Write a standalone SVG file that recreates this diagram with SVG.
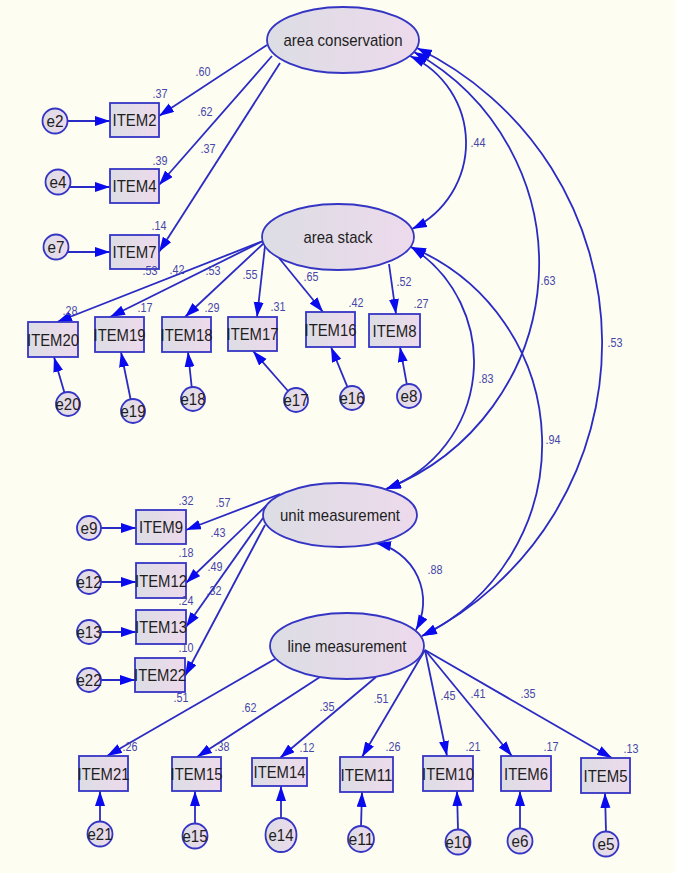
<svg xmlns="http://www.w3.org/2000/svg" width="675" height="873" viewBox="0 0 675 873">
<defs>
<linearGradient id="g" x1="0" y1="0" x2="1" y2="0">
<stop offset="0" stop-color="#dcdde4"/>
<stop offset="1" stop-color="#eddaec"/>
</linearGradient>
<marker id="ah" markerUnits="userSpaceOnUse" markerWidth="16" markerHeight="12" refX="15" refY="5" orient="auto-start-reverse">
<path d="M0,0 L15,5 L0,10 z" fill="#0a0aee"/>
</marker>
<style>
.n{fill:url(#g);stroke:#3535c4;stroke-width:1.8}
.t{font-family:"Liberation Sans",Arial,sans-serif;font-size:17px;fill:#1e1e1e;text-anchor:middle}
.l{font-family:"Liberation Sans",Arial,sans-serif;font-size:12.5px;fill:#4646aa;text-anchor:middle}
.c path{fill:none;stroke:#2a2ac4;stroke-width:1.8;marker-end:url(#ah)}
.c path.cov{marker-start:url(#ah)}
</style>
</defs>
<rect width="675" height="873" fill="#fdfdf1"/>

<g class="c" id="connectors">
<path class="cov" d="M410,56 A95.5,95.5 0 0 1 412,229"/>
<path class="cov" d="M414,52 A242,242 0 0 1 386,489"/>
<path class="cov" d="M417,48 A328,328 0 0 1 422,636"/>
<path class="cov" d="M411,247 A136,136 0 0 1 386,489"/>
<path class="cov" d="M411,247 A213.5,213.5 0 0 1 422,636"/>
<path class="cov" d="M376,543 A60,60 0 0 1 416,630"/>
<path d="M267,45 L159,116"/>
<path d="M272,56 L159,185"/>
<path d="M280,63 L159,252"/>
<path d="M263,241 L57,322"/>
<path d="M263,241 L110,317"/>
<path d="M264,243 L185,317"/>
<path d="M265,246 L257,317"/>
<path d="M279,258 L323,312"/>
<path d="M389,264 L396,314"/>
<path d="M280,494 L186,530"/>
<path d="M266,506 L186,583"/>
<path d="M263,518 L186,627"/>
<path d="M265,525 L185,676"/>
<path d="M275,659 L107,756"/>
<path d="M320,677 L197,757"/>
<path d="M376,677 L280,758"/>
<path d="M425,650 L362,757"/>
<path d="M425,650 L447,756"/>
<path d="M425,650 L512,756"/>
<path d="M425,650 L612,758"/>
<path d="M68,121 L110,121"/>
<path d="M70,187 L110,187"/>
<path d="M67,252 L110,252"/>
<path d="M64.4,392.6 L54,357"/>
<path d="M130.6,399.2 L121,352"/>
<path d="M191.7,387 L188,352"/>
<path d="M288,391 L253,351"/>
<path d="M347.4,386.9 L331,347"/>
<path d="M406.8,384.2 L400,347"/>
<path d="M101,528 L136,528"/>
<path d="M101,582 L136,582"/>
<path d="M101,632 L136,632"/>
<path d="M101,680 L135,680"/>
<path d="M100,821.5 L100,791"/>
<path d="M195,823.5 L195,791"/>
<path d="M281,818 L281,786"/>
<path d="M361,826 L362,792"/>
<path d="M458,829.5 L457,791"/>
<path d="M520,828.5 L520,791"/>
<path d="M606,831.5 L605,793"/>
</g>

<g id="area_conservation"><ellipse class="n" cx="343" cy="40" rx="76" ry="33"/><text class="t" x="343" y="46" textLength="119" lengthAdjust="spacingAndGlyphs">area conservation</text></g>
<g id="area_stack"><ellipse class="n" cx="338" cy="237" rx="76" ry="33"/><text class="t" x="338" y="243" textLength="69" lengthAdjust="spacingAndGlyphs">area stack</text></g>
<g id="unit_measurement"><ellipse class="n" cx="340" cy="515" rx="77" ry="32"/><text class="t" x="340" y="521" textLength="120" lengthAdjust="spacingAndGlyphs">unit measurement</text></g>
<g id="line_measurement"><ellipse class="n" cx="347" cy="646" rx="77" ry="33"/><text class="t" x="347" y="652" textLength="119" lengthAdjust="spacingAndGlyphs">line measurement</text></g>

<g id="ITEM2"><rect class="n" x="110" y="103" width="49" height="34"/><text class="t" x="134.5" y="126" textLength="44" lengthAdjust="spacingAndGlyphs">ITEM2</text></g>
<g id="ITEM4"><rect class="n" x="110" y="169" width="49" height="34"/><text class="t" x="134.5" y="192" textLength="44" lengthAdjust="spacingAndGlyphs">ITEM4</text></g>
<g id="ITEM7"><rect class="n" x="110" y="235" width="49" height="34"/><text class="t" x="134.5" y="258" textLength="44" lengthAdjust="spacingAndGlyphs">ITEM7</text></g>
<g id="ITEM20"><rect class="n" x="28" y="322" width="50" height="35"/><text class="t" x="53" y="346" textLength="52" lengthAdjust="spacingAndGlyphs">ITEM20</text></g>
<g id="ITEM19"><rect class="n" x="95" y="317" width="49" height="35"/><text class="t" x="119.5" y="341" textLength="52" lengthAdjust="spacingAndGlyphs">ITEM19</text></g>
<g id="ITEM18"><rect class="n" x="162" y="317" width="49" height="35"/><text class="t" x="186.5" y="341" textLength="52" lengthAdjust="spacingAndGlyphs">ITEM18</text></g>
<g id="ITEM17"><rect class="n" x="228" y="317" width="49" height="34"/><text class="t" x="252.5" y="340" textLength="52" lengthAdjust="spacingAndGlyphs">ITEM17</text></g>
<g id="ITEM16"><rect class="n" x="306" y="312" width="49" height="35"/><text class="t" x="330.5" y="336" textLength="52" lengthAdjust="spacingAndGlyphs">ITEM16</text></g>
<g id="ITEM8"><rect class="n" x="369" y="314" width="51" height="33"/><text class="t" x="394.5" y="337" textLength="44" lengthAdjust="spacingAndGlyphs">ITEM8</text></g>
<g id="ITEM9"><rect class="n" x="136" y="510" width="50" height="34"/><text class="t" x="161" y="533" textLength="44" lengthAdjust="spacingAndGlyphs">ITEM9</text></g>
<g id="ITEM12"><rect class="n" x="136" y="563" width="50" height="35"/><text class="t" x="161" y="587" textLength="52" lengthAdjust="spacingAndGlyphs">ITEM12</text></g>
<g id="ITEM13"><rect class="n" x="136" y="610" width="50" height="34"/><text class="t" x="161" y="633" textLength="52" lengthAdjust="spacingAndGlyphs">ITEM13</text></g>
<g id="ITEM22"><rect class="n" x="135" y="658" width="50" height="34"/><text class="t" x="160" y="681" textLength="52" lengthAdjust="spacingAndGlyphs">ITEM22</text></g>
<g id="ITEM21"><rect class="n" x="79" y="756" width="49" height="35"/><text class="t" x="103.5" y="780" textLength="52" lengthAdjust="spacingAndGlyphs">ITEM21</text></g>
<g id="ITEM15"><rect class="n" x="172" y="757" width="49" height="34"/><text class="t" x="196.5" y="780" textLength="52" lengthAdjust="spacingAndGlyphs">ITEM15</text></g>
<g id="ITEM14"><rect class="n" x="252" y="758" width="55" height="28"/><text class="t" x="279.5" y="778" textLength="52" lengthAdjust="spacingAndGlyphs">ITEM14</text></g>
<g id="ITEM11"><rect class="n" x="340" y="757" width="53" height="35"/><text class="t" x="366.5" y="781" textLength="52" lengthAdjust="spacingAndGlyphs">ITEM11</text></g>
<g id="ITEM10"><rect class="n" x="423" y="756" width="50" height="35"/><text class="t" x="448" y="780" textLength="52" lengthAdjust="spacingAndGlyphs">ITEM10</text></g>
<g id="ITEM6"><rect class="n" x="501" y="756" width="50" height="35"/><text class="t" x="526" y="780" textLength="44" lengthAdjust="spacingAndGlyphs">ITEM6</text></g>
<g id="ITEM5"><rect class="n" x="581" y="758" width="49" height="35"/><text class="t" x="605.5" y="782" textLength="44" lengthAdjust="spacingAndGlyphs">ITEM5</text></g>

<g id="e2"><circle class="n" cx="55" cy="121" r="12.5"/><text class="t" x="55" y="127" textLength="17" lengthAdjust="spacingAndGlyphs">e2</text></g>
<g id="e4"><circle class="n" cx="58" cy="182" r="12.5"/><text class="t" x="58" y="188" textLength="17" lengthAdjust="spacingAndGlyphs">e4</text></g>
<g id="e7"><circle class="n" cx="56" cy="247" r="12.5"/><text class="t" x="56" y="253" textLength="17" lengthAdjust="spacingAndGlyphs">e7</text></g>
<g id="e20"><circle class="n" cx="68" cy="404" r="12"/><text class="t" x="68" y="410" textLength="25" lengthAdjust="spacingAndGlyphs">e20</text></g>
<g id="e19"><circle class="n" cx="133" cy="411" r="12"/><text class="t" x="133" y="417" textLength="25" lengthAdjust="spacingAndGlyphs">e19</text></g>
<g id="e18"><circle class="n" cx="193" cy="399" r="12"/><text class="t" x="193" y="405" textLength="25" lengthAdjust="spacingAndGlyphs">e18</text></g>
<g id="e17"><circle class="n" cx="296" cy="400" r="12"/><text class="t" x="296" y="406" textLength="25" lengthAdjust="spacingAndGlyphs">e17</text></g>
<g id="e16"><circle class="n" cx="352" cy="398" r="12"/><text class="t" x="352" y="404" textLength="25" lengthAdjust="spacingAndGlyphs">e16</text></g>
<g id="e8"><circle class="n" cx="409" cy="396" r="12"/><text class="t" x="409" y="402" textLength="17" lengthAdjust="spacingAndGlyphs">e8</text></g>
<g id="e9"><circle class="n" cx="89" cy="528" r="12"/><text class="t" x="89" y="534" textLength="17" lengthAdjust="spacingAndGlyphs">e9</text></g>
<g id="e12"><circle class="n" cx="89" cy="582" r="12"/><text class="t" x="89" y="588" textLength="25" lengthAdjust="spacingAndGlyphs">e12</text></g>
<g id="e13"><circle class="n" cx="89" cy="632" r="12"/><text class="t" x="89" y="638" textLength="25" lengthAdjust="spacingAndGlyphs">e13</text></g>
<g id="e22"><circle class="n" cx="89" cy="680" r="12"/><text class="t" x="89" y="686" textLength="25" lengthAdjust="spacingAndGlyphs">e22</text></g>
<g id="e21"><circle class="n" cx="100" cy="834" r="12.5"/><text class="t" x="100" y="840" textLength="25" lengthAdjust="spacingAndGlyphs">e21</text></g>
<g id="e15"><circle class="n" cx="195" cy="836" r="12.5"/><text class="t" x="195" y="842" textLength="25" lengthAdjust="spacingAndGlyphs">e15</text></g>
<g id="e14"><ellipse class="n" cx="281" cy="835" rx="15.5" ry="17"/><text class="t" x="281" y="841" textLength="25" lengthAdjust="spacingAndGlyphs">e14</text></g>
<g id="e11"><circle class="n" cx="361" cy="839" r="13"/><text class="t" x="361" y="845" textLength="25" lengthAdjust="spacingAndGlyphs">e11</text></g>
<g id="e10"><circle class="n" cx="458" cy="842" r="12.5"/><text class="t" x="458" y="848" textLength="25" lengthAdjust="spacingAndGlyphs">e10</text></g>
<g id="e6"><circle class="n" cx="520" cy="841" r="12.5"/><text class="t" x="520" y="847" textLength="17" lengthAdjust="spacingAndGlyphs">e6</text></g>
<g id="e5"><circle class="n" cx="606" cy="844" r="12.5"/><text class="t" x="606" y="850" textLength="17" lengthAdjust="spacingAndGlyphs">e5</text></g>

<g id="labels">
<text class="l" x="203" y="76" textLength="15" lengthAdjust="spacingAndGlyphs">.60</text>
<text class="l" x="160" y="98" textLength="15" lengthAdjust="spacingAndGlyphs">.37</text>
<text class="l" x="205" y="116" textLength="15" lengthAdjust="spacingAndGlyphs">.62</text>
<text class="l" x="160" y="165" textLength="15" lengthAdjust="spacingAndGlyphs">.39</text>
<text class="l" x="208" y="153" textLength="15" lengthAdjust="spacingAndGlyphs">.37</text>
<text class="l" x="159" y="230" textLength="15" lengthAdjust="spacingAndGlyphs">.14</text>
<text class="l" x="478" y="147" textLength="15" lengthAdjust="spacingAndGlyphs">.44</text>
<text class="l" x="548" y="285" textLength="15" lengthAdjust="spacingAndGlyphs">.63</text>
<text class="l" x="486" y="383" textLength="15" lengthAdjust="spacingAndGlyphs">.83</text>
<text class="l" x="553" y="444" textLength="15" lengthAdjust="spacingAndGlyphs">.94</text>
<text class="l" x="615" y="347" textLength="15" lengthAdjust="spacingAndGlyphs">.53</text>
<text class="l" x="435" y="574" textLength="15" lengthAdjust="spacingAndGlyphs">.88</text>
<text class="l" x="150" y="275" textLength="15" lengthAdjust="spacingAndGlyphs">.53</text>
<text class="l" x="177" y="274" textLength="15" lengthAdjust="spacingAndGlyphs">.42</text>
<text class="l" x="213" y="275" textLength="15" lengthAdjust="spacingAndGlyphs">.53</text>
<text class="l" x="250" y="279" textLength="15" lengthAdjust="spacingAndGlyphs">.55</text>
<text class="l" x="311" y="281" textLength="15" lengthAdjust="spacingAndGlyphs">.65</text>
<text class="l" x="404" y="286" textLength="15" lengthAdjust="spacingAndGlyphs">.52</text>
<text class="l" x="70" y="315" textLength="15" lengthAdjust="spacingAndGlyphs">.28</text>
<text class="l" x="145" y="312" textLength="15" lengthAdjust="spacingAndGlyphs">.17</text>
<text class="l" x="212" y="312" textLength="15" lengthAdjust="spacingAndGlyphs">.29</text>
<text class="l" x="278" y="311" textLength="15" lengthAdjust="spacingAndGlyphs">.31</text>
<text class="l" x="356" y="307" textLength="15" lengthAdjust="spacingAndGlyphs">.42</text>
<text class="l" x="421" y="308" textLength="15" lengthAdjust="spacingAndGlyphs">.27</text>
<text class="l" x="186" y="505" textLength="15" lengthAdjust="spacingAndGlyphs">.32</text>
<text class="l" x="223" y="507" textLength="15" lengthAdjust="spacingAndGlyphs">.57</text>
<text class="l" x="218" y="537" textLength="15" lengthAdjust="spacingAndGlyphs">.43</text>
<text class="l" x="186" y="557" textLength="15" lengthAdjust="spacingAndGlyphs">.18</text>
<text class="l" x="215" y="571" textLength="15" lengthAdjust="spacingAndGlyphs">.49</text>
<text class="l" x="214" y="595" textLength="15" lengthAdjust="spacingAndGlyphs">.32</text>
<text class="l" x="186" y="605" textLength="15" lengthAdjust="spacingAndGlyphs">.24</text>
<text class="l" x="186" y="652" textLength="15" lengthAdjust="spacingAndGlyphs">.10</text>
<text class="l" x="181" y="702" textLength="15" lengthAdjust="spacingAndGlyphs">.51</text>
<text class="l" x="249" y="712" textLength="15" lengthAdjust="spacingAndGlyphs">.62</text>
<text class="l" x="327" y="711" textLength="15" lengthAdjust="spacingAndGlyphs">.35</text>
<text class="l" x="130" y="751" textLength="15" lengthAdjust="spacingAndGlyphs">.26</text>
<text class="l" x="222" y="751" textLength="15" lengthAdjust="spacingAndGlyphs">.38</text>
<text class="l" x="307" y="752" textLength="15" lengthAdjust="spacingAndGlyphs">.12</text>
<text class="l" x="381" y="703" textLength="15" lengthAdjust="spacingAndGlyphs">.51</text>
<text class="l" x="448" y="700" textLength="15" lengthAdjust="spacingAndGlyphs">.45</text>
<text class="l" x="478" y="698" textLength="15" lengthAdjust="spacingAndGlyphs">.41</text>
<text class="l" x="528" y="698" textLength="15" lengthAdjust="spacingAndGlyphs">.35</text>
<text class="l" x="393" y="751" textLength="15" lengthAdjust="spacingAndGlyphs">.26</text>
<text class="l" x="473" y="751" textLength="15" lengthAdjust="spacingAndGlyphs">.21</text>
<text class="l" x="551" y="751" textLength="15" lengthAdjust="spacingAndGlyphs">.17</text>
<text class="l" x="631" y="753" textLength="15" lengthAdjust="spacingAndGlyphs">.13</text>
</g>
</svg>
